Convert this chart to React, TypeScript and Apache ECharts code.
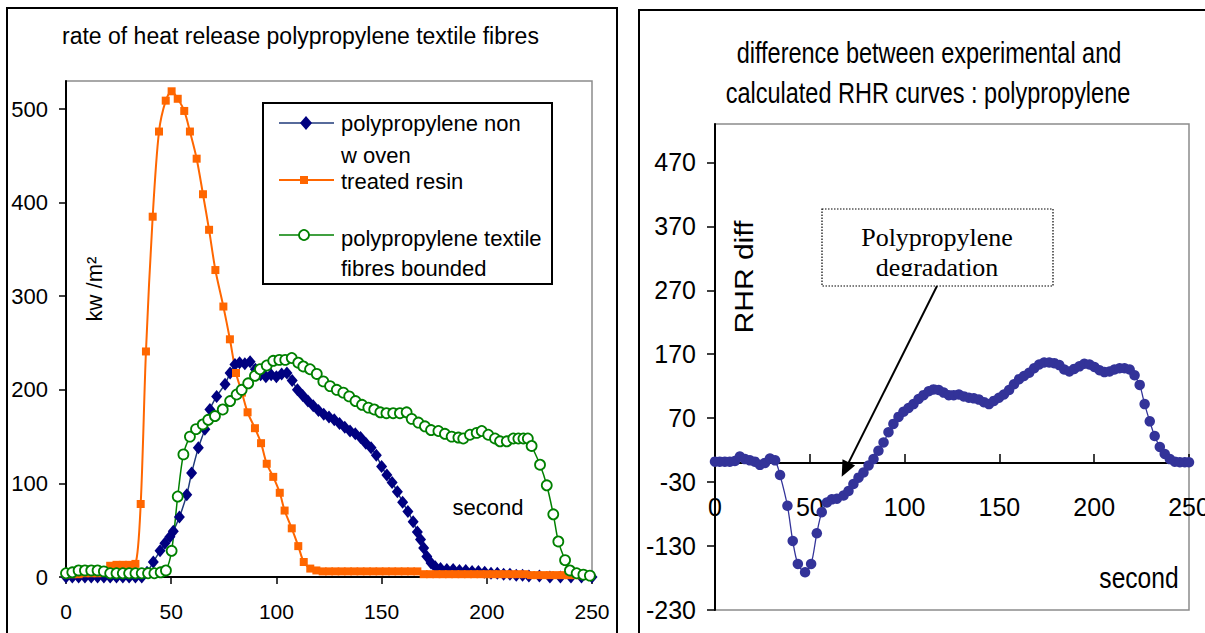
import React, { useEffect, useRef } from "react";
import * as echarts from "echarts";

// ---- left chart: rate of heat release (kW/m²) vs time (s) ----
const nonWoven: [number, number][] = [
  [0, 0], [3, 0], [6, 0], [9, 0], [12, 0], [15, 0], [18, 0], [21, 0], [24, 0], [27, 0], [30, 0], [33, 0], [36, 0],
  [38.5, 5], [41.5, 16], [44.7, 28], [47, 36], [49.4, 43], [51, 49], [53.9, 64], [57.4, 88], [59.7, 111], [62.9, 138],
  [66, 158], [68.4, 179], [71.6, 193], [75.6, 206], [78, 218], [80.3, 227], [82.5, 229], [85, 228], [87.5, 230],
  [90, 222], [92.5, 216], [95, 214], [97.5, 216], [100, 214], [102.5, 217], [105, 218], [107.5, 210], [110, 200],
  [112.5, 194], [115, 188], [117.5, 183], [120, 178], [122.5, 174], [125, 171], [127.5, 168], [130, 164], [132.5, 160],
  [135, 156], [137.5, 153], [140, 149], [142.5, 143], [145, 138], [147.5, 130], [150, 118], [152.5, 109], [155, 101],
  [157.5, 91], [160, 80], [162.5, 70], [165, 59], [167, 48], [168.5, 40], [170, 31], [171.5, 22], [173.5, 15],
  [175.5, 11], [178, 9], [181, 8], [184, 8], [187, 7], [190, 7], [193, 6], [196, 6], [199, 5], [202, 4], [205, 4],
  [208, 3], [211, 3], [214, 2], [217, 2], [220, 1], [225, 1], [230, 0], [235, 0], [240, 0], [245, 0], [250, 0],
];

const treatedResin: [number, number][] = [
  [0, 3], [3, 3], [6, 3], [9, 4], [12, 4], [15, 4], [18, 5], [21, 12], [24, 13], [27, 13], [30, 13], [33, 14],
  [35.5, 78], [38, 241], [41.2, 385], [44.2, 476], [47.4, 509], [50.2, 519], [53.1, 511], [56.2, 498], [58.9, 476],
  [62.1, 447], [65.1, 409], [68, 371], [71, 328], [74.8, 289], [77.9, 254], [80.8, 218], [83.6, 197], [86.3, 176],
  [89.8, 159], [92.7, 143], [95.4, 121], [98.5, 107], [101.6, 90], [103.9, 71], [107.3, 52], [110.4, 33], [113, 16],
  [116.1, 9], [119, 7], [122, 6], [125, 6], [128, 6], [131, 6], [134, 6], [137, 6], [140, 6], [143, 6], [146, 6],
  [149, 6], [152, 6], [155, 6], [158, 6], [161, 6], [164, 6], [167, 6], [170, 3], [173, 3], [176, 3], [179, 3],
  [182, 3], [185, 3], [188, 3], [191, 3], [194, 3], [197, 3], [200, 3], [203, 3], [206, 3], [209, 3], [212, 3],
  [215, 3], [218, 3], [221, 2], [224, 2], [227, 2], [230, 2], [233, 2], [236, 2], [239, 2], [242, 2], [245, 2], [248, 2],
];

const textileBounded: [number, number][] = [
  [0, 4], [3, 5], [6, 7], [9, 7], [12, 7], [15, 7], [18, 6], [21, 4], [24, 4], [27, 4], [30, 4], [33, 4], [36, 4],
  [39, 4], [42, 4], [45, 5], [47.5, 7], [50.2, 28], [53.1, 86], [55.8, 131], [58.9, 150], [61.8, 158], [65, 163],
  [67.6, 168], [70.8, 172], [74.5, 179], [78, 188], [81.1, 195], [83.5, 200], [86.6, 207], [89.8, 215], [92.2, 222],
  [95.4, 226], [98.5, 231], [101.4, 232], [104.2, 232], [107.3, 234], [110.4, 229], [112.8, 225], [116, 222],
  [119.2, 217], [122.3, 209], [125.5, 204], [128.7, 200], [131.8, 197], [134.6, 193], [137.6, 188], [140.7, 184],
  [143.7, 181], [146.5, 179], [149.4, 176], [152.3, 175], [155.5, 175], [158.7, 175], [161.9, 176], [164.3, 169],
  [167.5, 165], [170.6, 161], [173.5, 157], [177, 156], [180.1, 153], [183.3, 150], [186.5, 149], [188.8, 148],
  [192, 152], [195.2, 154], [197.6, 156], [200.7, 152], [203.9, 148], [206.3, 145], [209.5, 145], [212.6, 148],
  [215, 148], [217.4, 148], [219.5, 148], [221.3, 140], [225.3, 120], [228.5, 98], [231.6, 67], [234, 38],
  [237.2, 18], [239.5, 7], [242.7, 4], [245.9, 2.5], [249, 1.5],
];

// ---- right chart: RHR difference vs time (s) ----
const rhrDiff: [number, number][] = [
  [0, 2], [2.5, 2], [5.2, 2], [7.8, 2], [10.5, 3], [13.1, 10], [15.8, 6], [18.4, 4], [21, 2], [23.7, -3], [26.4, 0],
  [29, 7], [31.7, 4], [34.3, -19], [38.2, -67], [41, -122], [43.7, -158], [47.5, -171], [50.7, -158], [53.7, -110],
  [56.3, -77], [59, -62], [61.6, -57], [64.3, -56], [67.8, -51], [70.4, -44], [73, -33], [75.7, -23], [78.3, -15],
  [81, -4], [83.6, 6], [86.2, 19], [88.9, 32], [91.5, 48], [94.1, 61], [96.8, 72], [99.4, 80], [102.1, 86],
  [104.7, 92], [107.4, 100], [110, 106], [112.7, 112], [115.3, 115], [118, 114], [120.6, 110], [123.3, 106],
  [125.9, 106], [128.6, 107], [131.2, 104], [133.9, 102], [136.5, 101], [139.2, 99], [141.8, 95], [144.5, 92],
  [147.1, 97], [149.8, 102], [152.4, 107], [155.1, 114], [157.7, 123], [160.4, 131], [163, 136], [165.7, 141],
  [168.3, 148], [171, 154], [173.6, 157], [176.3, 157], [178.9, 156], [181.6, 153], [184.2, 146], [186.9, 143],
  [189.5, 147], [192.2, 151], [194.8, 155], [197.5, 154], [200.1, 150], [202.8, 145], [205.4, 142], [208.1, 143],
  [210.7, 146], [213.4, 148], [216, 148], [218.7, 146], [221.3, 137], [224, 122], [226.6, 92], [229.3, 65],
  [231.9, 42], [234.6, 25], [237.2, 14], [239.9, 6], [242.5, 2], [245.2, 1], [247.8, 1], [250, 1],
];

const leftYTicks = [0, 100, 200, 300, 400, 500];
const rightYTicks = [-230, -130, -30, 70, 170, 270, 370, 470];
const RIGHT_Y_MIN = -230;
const RIGHT_Y_MAX = 530;
const RIGHT_GRID_H = 486;

const SANS = "'Liberation Sans', Arial, sans-serif";
const SERIF = "'Liberation Serif', 'Times New Roman', serif";

export default function App() {
  const ref = useRef<HTMLDivElement>(null);
  useEffect(() => {
    if (!ref.current) return;
    const chart = echarts.init(ref.current, null, { renderer: "svg" });
    const txt = (x: number, y: number, text: string, size: number, family: string, extra: any = {}) => ({
      type: "text",
      x,
      y,
      z: 100,
      ...extra,
      style: { text, fontSize: size, fontFamily: family, fill: "#000", align: "left", verticalAlign: "middle", ...(extra.style || {}) },
    });
    // distance of the zero line above the bottom of the right grid
    const zeroOffset = (RIGHT_GRID_H * (0 - RIGHT_Y_MIN)) / (RIGHT_Y_MAX - RIGHT_Y_MIN);
    chart.setOption({
      animation: false,
      backgroundColor: "#fff",
      grid: [
        { left: 66, top: 81, width: 526, height: 496, show: true, borderColor: "#8c8c8c", borderWidth: 1.5, backgroundColor: "transparent", outerBoundsMode: "none", containLabel: false },
        { left: 715, top: 124, width: 474, height: RIGHT_GRID_H, show: true, borderColor: "#8c8c8c", borderWidth: 1.5, backgroundColor: "transparent", outerBoundsMode: "none", containLabel: false },
      ],
      xAxis: [
        {
          type: "value", gridIndex: 0, min: 0, max: 250, interval: 50,
          axisLine: { lineStyle: { color: "#000", width: 2 } },
          axisTick: { inside: false, length: 7, lineStyle: { color: "#000", width: 1.5 } },
          axisLabel: { fontSize: 21, color: "#000", fontFamily: SANS, margin: 24 },
          splitLine: { show: false },
        },
        {
          type: "value", gridIndex: 1, min: 0, max: 250, interval: 50, position: "bottom", offset: -zeroOffset,
          axisLine: { onZero: false, lineStyle: { color: "#000", width: 2 } },
          axisTick: { inside: true, length: 9, lineStyle: { color: "#000", width: 1.5 } },
          axisLabel: { fontSize: 25, color: "#000", fontFamily: SANS, margin: 32 },
          splitLine: { show: false },
        },
      ],
      yAxis: [
        {
          type: "value", gridIndex: 0, min: 0, max: 530,
          axisLine: { show: true, onZero: false, lineStyle: { color: "#000", width: 2 } },
          axisTick: { show: true, length: 7, customValues: leftYTicks, lineStyle: { color: "#000", width: 1.5 } },
          axisLabel: { fontSize: 22, color: "#000", fontFamily: SANS, margin: 18, customValues: leftYTicks },
          splitLine: { show: false },
        },
        {
          type: "value", gridIndex: 1, min: RIGHT_Y_MIN, max: RIGHT_Y_MAX,
          axisLine: { show: true, onZero: false, lineStyle: { color: "#000", width: 2 } },
          axisTick: { show: true, length: 8, customValues: rightYTicks, lineStyle: { color: "#000", width: 1.5 } },
          axisLabel: { fontSize: 25, color: "#000", fontFamily: SANS, margin: 19, customValues: rightYTicks },
          splitLine: { show: false },
        },
      ],
      series: [
        {
          name: "polypropylene non woven", type: "line", xAxisIndex: 0, yAxisIndex: 0, data: nonWoven,
          smooth: 0.3, symbol: "diamond", symbolSize: [11, 13], clip: false,
          itemStyle: { color: "#000080" }, lineStyle: { color: "#1f3a7a", width: 1.5 },
        },
        {
          name: "treated resin", type: "line", xAxisIndex: 0, yAxisIndex: 0, data: treatedResin,
          smooth: 0.3, symbol: "rect", symbolSize: 8, clip: false,
          itemStyle: { color: "#FF6600" }, lineStyle: { color: "#FF6600", width: 2 },
        },
        {
          name: "polypropylene textile fibres bounded", type: "line", xAxisIndex: 0, yAxisIndex: 0, data: textileBounded,
          smooth: 0.3, symbol: "circle", symbolSize: 10, clip: false,
          itemStyle: { color: "#fff", borderColor: "#008000", borderWidth: 1.8 }, lineStyle: { color: "#008000", width: 1.5 },
        },
        {
          name: "RHR diff", type: "line", xAxisIndex: 1, yAxisIndex: 1, data: rhrDiff,
          smooth: 0.3, symbol: "circle", symbolSize: 10.5, clip: false,
          itemStyle: { color: "#333399" }, lineStyle: { color: "#333399", width: 1.3 },
        },
      ],
      graphic: [
        // panel frames
        { type: "rect", z: 90, shape: { x: 7, y: 8, width: 610, height: 640 }, style: { fill: "none", stroke: "#000", lineWidth: 2 } },
        { type: "rect", z: 90, shape: { x: 639, y: 10, width: 600, height: 640 }, style: { fill: "none", stroke: "#000", lineWidth: 2 } },
        // left title
        txt(62, 36, "rate of heat release polypropylene textile fibres", 23, SANS),
        // legend box
        { type: "rect", z: 95, shape: { x: 263, y: 103, width: 289, height: 181 }, style: { fill: "#fff", stroke: "#000", lineWidth: 2 } },
        { type: "line", z: 100, shape: { x1: 279, y1: 123, x2: 334, y2: 123 }, style: { stroke: "#1f3a7a", lineWidth: 1.5 } },
        { type: "polygon", z: 101, shape: { points: [[306, 116], [312, 123], [306, 130], [300, 123]] }, style: { fill: "#000080" } },
        { type: "line", z: 100, shape: { x1: 279, y1: 180, x2: 334, y2: 180 }, style: { stroke: "#FF6600", lineWidth: 2 } },
        { type: "rect", z: 101, shape: { x: 300, y: 176, width: 8, height: 8 }, style: { fill: "#FF6600" } },
        { type: "line", z: 100, shape: { x1: 279, y1: 235, x2: 334, y2: 235 }, style: { stroke: "#008000", lineWidth: 1.5 } },
        { type: "circle", z: 101, shape: { cx: 304, cy: 235, r: 5 }, style: { fill: "#fff", stroke: "#008000", lineWidth: 1.8 } },
        txt(341, 123, "polypropylene non", 22, SANS),
        txt(341, 155, "w oven", 22, SANS),
        txt(341, 181, "treated resin", 22, SANS),
        txt(341, 238, "polypropylene textile", 22, SANS),
        txt(341, 268, "fibres bounded", 22, SANS),
        // left axis names
        txt(94, 289, "kw /m²", 22, SANS, { rotation: Math.PI / 2, style: { align: "center" } }),
        txt(488, 507, "second", 22, SANS, { style: { align: "center" } }),
        // right title (condensed lettering)
        txt(929, 53, "difference between experimental and", 29, SANS, { scaleX: 0.81, style: { align: "center" } }),
        txt(928, 93, "calculated RHR curves : polypropylene", 29, SANS, { scaleX: 0.81, style: { align: "center" } }),
        // right axis names
        txt(744, 277, "RHR diff", 30, SANS, { rotation: Math.PI / 2, scaleY: 0.85, style: { align: "center" } }),
        txt(1139, 578, "second", 30, SANS, { scaleX: 0.82, style: { align: "center" } }),
        // annotation
        { type: "rect", z: 100, shape: { x: 822, y: 209, width: 231, height: 77 }, style: { fill: "#fff", stroke: "#000", lineWidth: 1.2, lineDash: [1.5, 1.5] } },
        txt(937, 237, "Polypropylene", 26, SERIF, { z: 101, style: { align: "center" } }),
        txt(937, 267, "degradation", 26, SERIF, { z: 101, style: { align: "center" } }),
        { type: "rect", z: 102, shape: { x: 823.5, y: 276, width: 228, height: 8.5 }, style: { fill: "#fff" } },
        { type: "line", z: 103, shape: { x1: 937, y1: 286, x2: 848.8, y2: 462.4 }, style: { stroke: "#000", lineWidth: 2 } },
        { type: "polygon", z: 103, shape: { points: [[841.7, 476.7], [855.1, 465.5], [842.5, 459.3]] }, style: { fill: "#000" } },
      ],
    });
    return () => chart.dispose();
  }, []);
  return (
    <div
      ref={ref}
      style={{ position: "fixed", left: 0, top: 0, width: 1205, height: 633, background: "#fff" }}
    />
  );
}
